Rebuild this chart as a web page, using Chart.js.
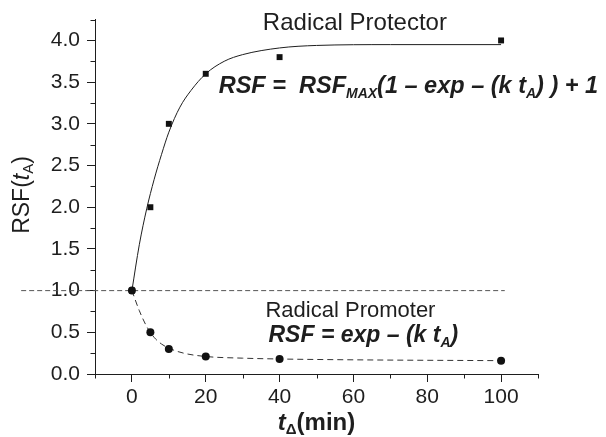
<!DOCTYPE html>
<html>
<head>
<meta charset="utf-8">
<script src="https://cdn.jsdelivr.net/npm/chart.js@4"></script>
<style>
html,body{margin:0;padding:0;background:#fff;}
#wrap{width:606px;height:437px;position:relative;}
</style>
</head>
<body>
<div id="wrap"><canvas id="c" width="606" height="437"></canvas></div>
<script>
// ---- data ----
const protectorT   = [0, 5, 10, 20, 40, 100];
const protectorRSF = [1.0, 2.0, 3.0, 3.6, 3.8, 4.0];
const promoterT    = [0, 5, 10, 20, 40, 100];
const promoterRSF  = [1.0, 0.5, 0.3, 0.21, 0.18, 0.16];

const protectorFitT   = [0, 2, 4, 6, 8, 10, 13, 16, 20, 25, 30, 40, 50, 70, 100];
const protectorFitRSF = [1.0, 1.55, 1.98, 2.33, 2.63, 2.9, 3.2, 3.4, 3.6, 3.75, 3.83, 3.91, 3.94, 3.95, 3.95];
const promoterFitT    = [0, 2, 4, 6, 8, 10, 14, 20, 30, 40, 60, 100];
const promoterFitRSF  = [1.0, 0.76, 0.57, 0.44, 0.36, 0.31, 0.25, 0.21, 0.19, 0.18, 0.17, 0.16];

const refLineT   = [-30, 101];
const refLineRSF = [1.0, 1.0];

const xMajorTicks = [0, 20, 40, 60, 80, 100];
const xMinorTicks = [-10, 10, 30, 50, 70, 90, 110];
const yMajorTicks = [0, 0.5, 1.0, 1.5, 2.0, 2.5, 3.0, 3.5, 4.0];
const yMinorTicks = [0.25, 0.75, 1.25, 1.75, 2.25, 2.75, 3.25, 3.75, 4.25];

const FONT = "'Liberation Sans', Arial, Helvetica, sans-serif";
const INK = '#1e1e1e';

function pts(xs, ys){ return xs.map((x,i)=>({x:x, y:ys[i]})); }

// draws a run of text segments: [text, style, size, dy]
function drawRuns(ctx, runs, x, y, align){
  let total = 0;
  runs.forEach(r=>{ ctx.font = r[1]+' '+r[2]+'px '+FONT; total += ctx.measureText(r[0]).width; });
  let cx = align==='center' ? x - total/2 : x;
  ctx.textBaseline = 'alphabetic';
  ctx.textAlign = 'left';
  runs.forEach(r=>{
    ctx.font = r[1]+' '+r[2]+'px '+FONT;
    ctx.fillText(r[0], cx, y + (r[3]||0));
    cx += ctx.measureText(r[0]).width;
  });
}

const decor = {
  id:'decor',
  afterDraw(chart){
    const ctx = chart.ctx, xs = chart.scales.x, ys = chart.scales.y;
    const ca = chart.chartArea;
    ctx.save();
    ctx.strokeStyle = INK; ctx.lineWidth = 1;
    // minor ticks
    ctx.beginPath();
    xMinorTicks.forEach(v=>{ const p = Math.round(xs.getPixelForValue(v))+0.5; ctx.moveTo(p, ca.bottom); ctx.lineTo(p, ca.bottom+4.5); });
    yMinorTicks.forEach(v=>{ const p = Math.round(ys.getPixelForValue(v))+0.5; ctx.moveTo(ca.left, p); ctx.lineTo(ca.left-4.5, p); });
    ctx.stroke();

    ctx.fillStyle = INK;
    // annotations anchored in data space
    drawRuns(ctx, [['Radical Protector','normal',24,0]], xs.getPixelForValue(60.4), ys.getPixelForValue(4.12), 'center');
    drawRuns(ctx, [
      ['RSF =  RSF','italic bold',23.5,0],
      ['MAX','italic bold',14,5],
      ['(1 \u2013 exp \u2013 (k t','italic bold',23.5,0],
      ['A','italic bold',14,5],
      [') ) + 1','italic bold',23.5,0]
    ], xs.getPixelForValue(23.5), ys.getPixelForValue(3.365), 'left');
    drawRuns(ctx, [['Radical Promoter','normal',22,0]], xs.getPixelForValue(59.2), ys.getPixelForValue(0.683), 'center');
    drawRuns(ctx, [
      ['RSF = exp \u2013 (k t','italic bold',23,0],
      ['A','italic bold',14,5],
      [')','italic bold',23,0]
    ], xs.getPixelForValue(37.0), ys.getPixelForValue(0.383), 'left');

    // x axis title
    drawRuns(ctx, [
      ['t','italic bold',24,0],
      ['\u0394','bold',15,4],
      ['(min)','bold',24,0]
    ], (ca.left+ca.right)/2, 430, 'center');

    // y axis title (rotated)
    ctx.translate(29, 195);
    ctx.rotate(-Math.PI/2);
    drawRuns(ctx, [
      ['RSF(','normal',23,0],
      ['t','italic',23,0],
      ['A','normal',15,4],
      [')','normal',23,0]
    ], 0, 0, 'center');
    ctx.restore();
  }
};

new Chart(document.getElementById('c'), {
  type:'scatter',
  data:{
    datasets:[
      { data: pts(refLineT, refLineRSF), showLine:true, borderColor:'#555', borderWidth:1, borderDash:[5,3], pointRadius:0, clip:false, order:5 },
      { data: pts(protectorFitT, protectorFitRSF), showLine:true, borderColor:INK, borderWidth:1, pointRadius:0, cubicInterpolationMode:'monotone', order:4 },
      { data: pts(promoterFitT, promoterFitRSF), showLine:true, borderColor:'#333', borderWidth:1, borderDash:[6,4], pointRadius:0, cubicInterpolationMode:'monotone', order:3 },
      { data: pts(protectorT, protectorRSF), pointStyle:'rect', pointRadius:4.2, backgroundColor:'#111', borderColor:'#111', borderWidth:0, clip:false, order:2 },
      { data: pts(promoterT, promoterRSF), pointStyle:'circle', pointRadius:4, backgroundColor:'#111', borderColor:'#111', borderWidth:0, clip:false, order:1 }
    ]
  },
  options:{
    responsive:false,
    animation:false,
    devicePixelRatio:1,
    layout:{ padding:{ left:0, right:68, top:19, bottom:0 } },
    plugins:{ legend:{display:false}, tooltip:{enabled:false} },
    scales:{
      x:{
        type:'linear', min:-10, max:110,
        afterBuildTicks(s){ s.ticks = xMajorTicks.map(v=>({value:v})); },
        afterFit(s){ s.height = 63; },
        grid:{ drawOnChartArea:false, drawTicks:true, tickLength:8, tickColor:INK, tickWidth:1 },
        border:{ display:true, color:INK, width:1 },
        ticks:{ color:INK, font:{family:FONT, size:21}, padding:3, maxRotation:0, callback:v=>String(v) }
      },
      y:{
        type:'linear', min:0, max:4.25,
        afterBuildTicks(s){ s.ticks = yMajorTicks.map(v=>({value:v})); },
        afterFit(s){ s.width = 95; },
        grid:{ drawOnChartArea:false, drawTicks:true, tickLength:8, tickColor:INK, tickWidth:1 },
        border:{ display:true, color:INK, width:1 },
        ticks:{ color:INK, font:{family:FONT, size:21}, padding:7, callback:v=>Number(v).toFixed(1) }
      }
    }
  },
  plugins:[decor]
});
</script>
</body>
</html>
